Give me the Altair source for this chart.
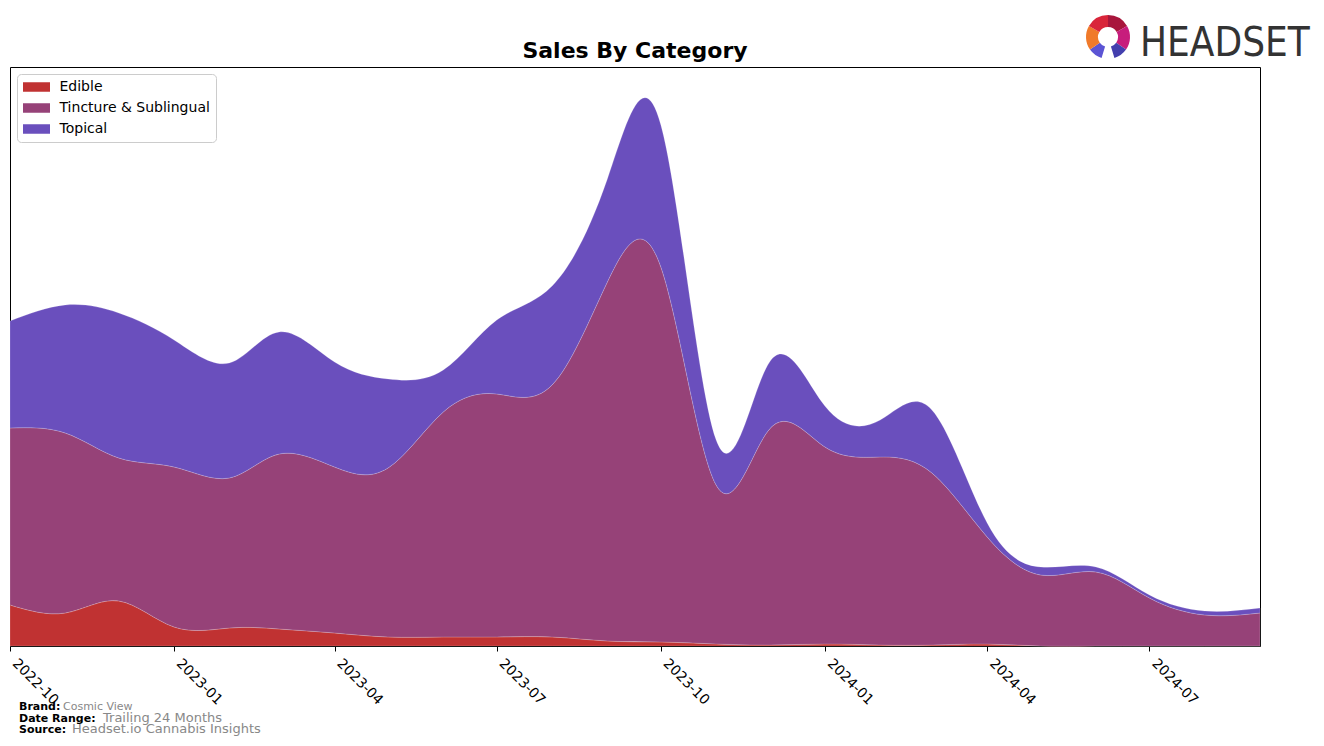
import altair as alt
import pandas as pd
import math

# ---- data (stack heights, arbitrary sales units) ----
months = ["2022-10", "2022-11", "2022-12", "2023-01", "2023-02", "2023-03",
          "2023-04", "2023-05", "2023-06", "2023-07", "2023-08", "2023-09",
          "2023-10", "2023-11", "2023-12", "2024-01", "2024-02", "2024-03",
          "2024-04", "2024-05", "2024-06", "2024-07", "2024-08", "2024-09"]
edible = [41, 33, 45, 19, 18, 17, 13, 9, 9, 9, 9, 5,
          4, 2, 1, 2, 1, 1, 2, 0, 0, 0, 0, 0]
tincture = [177, 180, 143, 160, 150, 175, 166, 169, 225, 243, 252, 359,
            375, 159, 216, 197, 188, 172, 107, 71, 74, 48, 31, 33]
topical = [107, 128, 145, 127, 115, 122, 105, 89, 42, 74, 99, 103,
           142, 45, 67, 41, 37, 63, 14, 8, 5, 3, 4, 5]
categories = ["Edible", "Tincture & Sublingual", "Topical"]
colors = ["#c03232", "#964278", "#6a4fbd"]
tick_months = ["2022-10", "2023-01", "2023-04", "2023-07", "2023-10",
               "2024-01", "2024-04", "2024-07"]

rows = []
for series_i, (cat, vals) in enumerate(zip(categories, [edible, tincture, topical])):
    for m, v in zip(months, vals):
        rows.append({"month": m + "-01", "category": cat, "sales": v, "order": series_i})
df = pd.DataFrame(rows)


def ms(m):
    return int(pd.Timestamp(m + "-01", tz="UTC").value // 10**6)


FONT = "DejaVu Sans"

area = alt.Chart(df).mark_area(interpolate="natural", stroke="white",
                               strokeWidth=0.6, strokeOpacity=0.3).encode(
    x=alt.X("month:T",
            scale=alt.Scale(type="utc", domain=[ms(months[0]), ms(months[-1])], nice=False),
            axis=alt.Axis(values=[ms(t) for t in tick_months],
                          labelExpr="utcFormat(datum.value, '%Y-%m')",
                          labelAngle=45, labelAlign="left", labelBaseline="top",
                          labelFontSize=14, labelFont=FONT, labelColor="black",
                          tickColor="black", tickSize=5, tickWidth=1,
                          domain=False, grid=False, title=None,
                          labelPadding=5, labelOffset=9,
                          labelOverlap=False, labelFlush=False)),
    y=alt.Y("sales:Q", stack="zero",
            scale=alt.Scale(domain=[0, 579], nice=False, zero=True),
            axis=None),
    color=alt.Color("category:N",
                    scale=alt.Scale(domain=categories, range=colors),
                    legend=alt.Legend(title=None, orient="none", legendX=7, legendY=7,
                                      symbolType="M-2.7,-0.95H2.7V0.95H-2.7Z",
                                      symbolSize=100, symbolStrokeWidth=0,
                                      symbolOpacity=1, symbolOffset=6.5,
                                      labelFont=FONT, labelFontSize=14, labelColor="black",
                                      labelOffset=16, rowPadding=7,
                                      fillColor="white", strokeColor="#cccccc",
                                      cornerRadius=4, padding=6)),
    order=alt.Order("order:Q", sort="ascending"),
)

dummy = pd.DataFrame({"k": [0]})


def label(text, x, y, size, color="black", weight="normal", font=FONT, align="left"):
    return alt.Chart(dummy).mark_text(
        text=text, align=align, baseline="alphabetic", fontSize=size,
        font=font, fontWeight=weight, color=color
    ).encode(x=alt.value(x), y=alt.value(y))


title = label("Sales By Category", 625, -9, 22, weight="bold", align="center")

notes = [
    label("Brand:", 9, 643, 11, weight="bold"),
    label("Cosmic View", 53, 643, 11, color="#888888"),
    label("Date Range:", 9, 655, 11, weight="bold"),
    label("Trailing 24 Months", 93, 655, 13, color="#888888"),
    label("Source:", 9, 666, 11, weight="bold"),
    label("Headset.io Cannabis Insights", 62, 666, 13, color="#888888"),
]

logo_text = label("HEADSET", 1130, -11, 40, color="#333333", font="DejaVu Sans Condensed")

segs = [(0, 60, "#a8163c"), (60, 125, "#c71d7c"), (125, 163, "#433fae"),
        (197, 235, "#5b54d4"), (235, 300, "#f07a2a"), (300, 360, "#d9253a")]
logo_arcs = [
    alt.Chart(dummy).mark_arc(theta=math.radians(a), theta2=math.radians(b),
                              radius=22, radius2=10, color=c).encode(
        x=alt.value(1098), y=alt.value(-30))
    for a, b, c in segs
]

chart = alt.layer(area, title, *notes, logo_text, *logo_arcs).properties(
    width=1250, height=579,
    autosize=alt.AutoSizeParams(type="none"),
    padding={"left": 10, "top": 67, "right": 64, "bottom": 100},
).configure(background="white").configure_view(stroke="black", strokeWidth=1)

chart.save("out.html", embed_options={"renderer": "svg", "actions": False})
